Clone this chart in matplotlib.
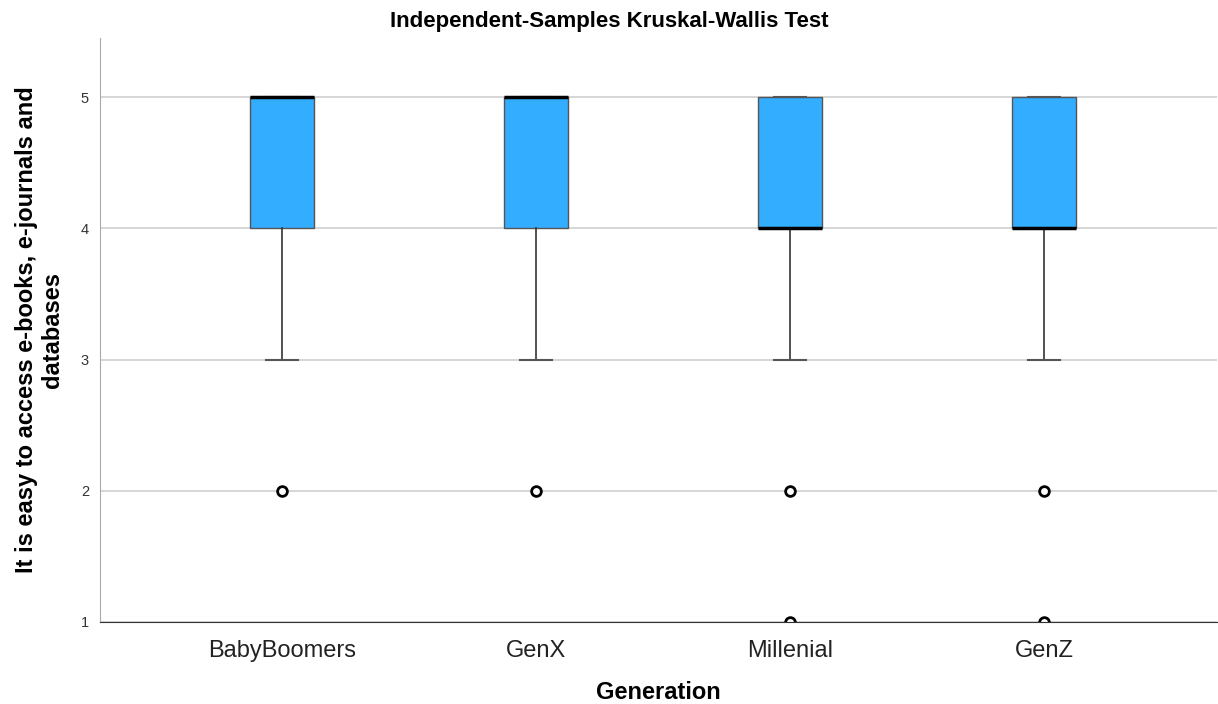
import matplotlib.pyplot as plt

plt.rcParams['font.family'] = ['Liberation Sans', 'DejaVu Sans']

generations = ['BabyBoomers', 'GenX', 'Millenial', 'GenZ']
medians = [5, 5, 4, 4]
q1s = [4, 4, 4, 4]
q3s = [5, 5, 5, 5]
whis_lo = [3, 3, 3, 3]
whis_hi = [5, 5, 5, 5]
outliers = [[2], [2], [2, 1], [2, 1]]

stats = []
for i in range(len(generations)):
    stats.append({'label': generations[i], 'med': medians[i], 'q1': q1s[i], 'q3': q3s[i],
                  'whislo': whis_lo[i], 'whishi': whis_hi[i], 'fliers': outliers[i]})

fig = plt.figure(figsize=(12.18, 7.04), dpi=100)
ax = fig.add_axes([0.0821, 0.1165, 0.917, 0.8295])

ax.bxp(stats, positions=range(len(generations)), widths=0.25, capwidths=0.125,
       patch_artist=True, showfliers=True,
       boxprops=dict(facecolor='#33adff', edgecolor='#555555', linewidth=1),
       medianprops=dict(color='black', linewidth=2.5),
       whiskerprops=dict(color='#333333', linewidth=1.2),
       capprops=dict(color='#555555', linewidth=1.5),
       flierprops=dict(marker='o', markerfacecolor='white', markeredgecolor='black',
                       markersize=7, markeredgewidth=2))

ax.set_xlim(-0.716, 3.68)
ax.set_ylim(1, 5.45)
ax.set_yticks([1, 2, 3, 4, 5])
ax.yaxis.grid(True, color='#d0d0d0', linewidth=1.2)
ax.set_axisbelow(True)
for s in ['top', 'right']:
    ax.spines[s].set_visible(False)
ax.spines['left'].set_color('#aaaaaa')
ax.spines['bottom'].set_color('#333333')
ax.tick_params(axis='both', length=0)
ax.tick_params(axis='x', labelsize=17, pad=13, labelcolor='#222222')
ax.tick_params(axis='y', labelsize=10.5, pad=8, labelcolor='#333333')

fig.suptitle('Independent-Samples Kruskal-Wallis Test', fontsize=16, fontweight='bold',
             x=0.5, y=0.985)
ax.set_xlabel('Generation', fontsize=17, fontweight='bold', labelpad=14)
ax.set_ylabel('It is easy to access e-books, e-journals and\ndatabases', fontsize=17,
              fontweight='bold', labelpad=12, linespacing=1.15)

fig.savefig('out.png', dpi=100)
